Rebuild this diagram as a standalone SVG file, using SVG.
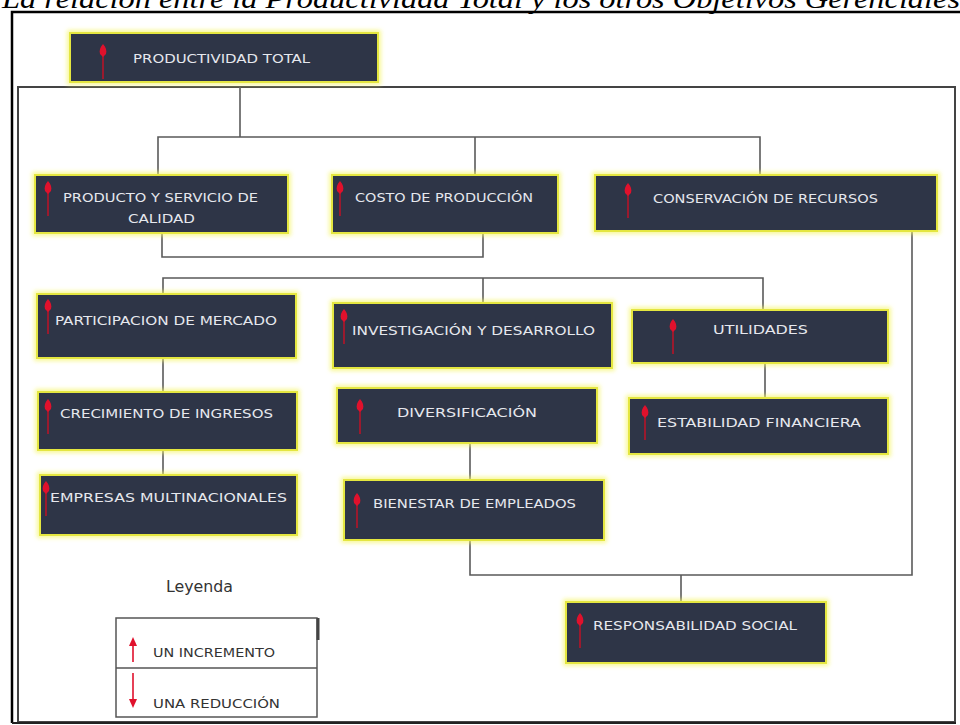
<svg xmlns="http://www.w3.org/2000/svg" xmlns:xlink="http://www.w3.org/1999/xlink" width="960" height="725" viewBox="0 0 960 725">
<style>
.box{fill:#2d3447;stroke:#e4e640;stroke-width:2;filter:url(#glow)}
.lbl{font-family:"DejaVu Sans Condensed","Liberation Sans Narrow",sans-serif;font-size:13px;fill:#e6e8ee}
.con{fill:none;stroke:#5a5a5a;stroke-width:1.6}
.leg{font-family:"DejaVu Sans Condensed","Liberation Sans Narrow",sans-serif;fill:#333}
</style>
<defs>
<filter id="glow" x="-10%" y="-25%" width="120%" height="150%">
<feMorphology in="SourceAlpha" operator="dilate" radius="2" result="d"/>
<feGaussianBlur in="d" stdDeviation="2" result="b"/>
<feFlood flood-color="#f6f66a" flood-opacity="0.7"/>
<feComposite in2="b" operator="in" result="g"/>
<feMerge><feMergeNode in="g"/><feMergeNode in="SourceGraphic"/></feMerge>
</filter>
<g id="up">
<line x1="0" y1="4" x2="0" y2="34" stroke="#9a1a2e" stroke-width="2"/>
<path d="M0,-1 C3,2 4,6 3,9 L0,12 L-3,9 C-4,6 -3,2 0,-1 Z" fill="#e0112c"/>
</g>
</defs>
<rect width="960" height="725" fill="#ffffff"/>
<text x="2" y="8" font-family="'Liberation Serif',serif" font-style="italic" font-size="28" textLength="958" lengthAdjust="spacingAndGlyphs" fill="#000">La relación entre la Productividad Total y los otros Objetivos Gerenciales</text>
<path d="M12,723 V12 H960" fill="none" stroke="#000" stroke-width="2.5"/>
<rect x="18" y="87" width="937" height="635" fill="none" stroke="#444" stroke-width="2"/>
<line x1="12" y1="723" x2="956" y2="723" stroke="#222" stroke-width="2"/>
<g id="connectors">
<path class="con" d="M240,87 V137"/>
<path class="con" d="M158,175 V137 H760 V175"/>
<path class="con" d="M475,137 V175"/>
<path class="con" d="M162,233 V257 H483 V233"/>
<path class="con" d="M163,295 V278 H763 V310"/>
<path class="con" d="M483,278 V303"/>
<path class="con" d="M163,358 V392"/>
<path class="con" d="M163,450 V475"/>
<path class="con" d="M765,363 V398"/>
<path class="con" d="M470,443 V480"/>
<path class="con" d="M470,540 V575 H912 V231"/>
<path class="con" d="M681,575 V602"/>
</g>
<g id="n-productividad"><rect class="box" x="70" y="33" width="308" height="49"/><use xlink:href="#up" x="103" y="45"/><text class="lbl" x="133" y="63" textLength="177" lengthAdjust="spacingAndGlyphs">PRODUCTIVIDAD TOTAL</text></g>
<g id="n-calidad"><rect class="box" x="35" y="175" width="253" height="58"/><use xlink:href="#up" x="48" y="182"/><text class="lbl" x="63" y="202" textLength="195" lengthAdjust="spacingAndGlyphs">PRODUCTO Y SERVICIO DE</text><text class="lbl" x="128" y="223" textLength="67" lengthAdjust="spacingAndGlyphs">CALIDAD</text></g>
<g id="n-costo"><rect class="box" x="332" y="175" width="226" height="58"/><use xlink:href="#up" x="340" y="182"/><text class="lbl" x="355" y="202" textLength="178" lengthAdjust="spacingAndGlyphs">COSTO DE PRODUCCIÓN</text></g>
<g id="n-conservacion"><rect class="box" x="595" y="175" width="342" height="56"/><use xlink:href="#up" x="628" y="184"/><text class="lbl" x="653" y="203" textLength="225" lengthAdjust="spacingAndGlyphs">CONSERVACIÓN DE RECURSOS</text></g>
<g id="n-participacion"><rect class="box" x="37" y="294" width="259" height="64"/><use xlink:href="#up" x="48" y="300"/><text class="lbl" x="55" y="325" textLength="222" lengthAdjust="spacingAndGlyphs">PARTICIPACION DE MERCADO</text></g>
<g id="n-crecimiento"><rect class="box" x="38" y="392" width="259" height="58"/><use xlink:href="#up" x="48" y="400"/><text class="lbl" x="60" y="418" textLength="213" lengthAdjust="spacingAndGlyphs">CRECIMIENTO DE INGRESOS</text></g>
<g id="n-empresas"><rect class="box" x="40" y="475" width="257" height="60"/><use xlink:href="#up" x="46" y="482"/><text class="lbl" x="50" y="502" textLength="237" lengthAdjust="spacingAndGlyphs">EMPRESAS MULTINACIONALES</text></g>
<g id="n-investigacion"><rect class="box" x="333" y="303" width="279" height="65"/><use xlink:href="#up" x="344" y="310"/><text class="lbl" x="352" y="335" textLength="243" lengthAdjust="spacingAndGlyphs">INVESTIGACIÓN Y DESARROLLO</text></g>
<g id="n-diversificacion"><rect class="box" x="337" y="388" width="260" height="55"/><use xlink:href="#up" x="360" y="400"/><text class="lbl" x="397" y="417" textLength="140" lengthAdjust="spacingAndGlyphs">DIVERSIFICACIÓN</text></g>
<g id="n-bienestar"><rect class="box" x="344" y="480" width="260" height="60"/><use xlink:href="#up" x="357" y="494"/><text class="lbl" x="373" y="508" textLength="203" lengthAdjust="spacingAndGlyphs">BIENESTAR DE EMPLEADOS</text></g>
<g id="n-utilidades"><rect class="box" x="632" y="310" width="256" height="53"/><use xlink:href="#up" x="673" y="320"/><text class="lbl" x="713" y="334" textLength="95" lengthAdjust="spacingAndGlyphs">UTILIDADES</text></g>
<g id="n-estabilidad"><rect class="box" x="629" y="398" width="259" height="56"/><use xlink:href="#up" x="645" y="406"/><text class="lbl" x="657" y="427" textLength="204" lengthAdjust="spacingAndGlyphs">ESTABILIDAD FINANCIERA</text></g>
<g id="n-responsabilidad"><rect class="box" x="566" y="602" width="260" height="61"/><use xlink:href="#up" x="580" y="614"/><text class="lbl" x="593" y="630" textLength="204" lengthAdjust="spacingAndGlyphs">RESPONSABILIDAD SOCIAL</text></g>
<g id="legend">
<text class="leg" x="166" y="592" font-size="15" textLength="67" lengthAdjust="spacingAndGlyphs">Leyenda</text>
<rect x="116" y="618" width="201" height="99" fill="#fff" stroke="#555" stroke-width="1.5"/>
<line x1="116" y1="668" x2="317" y2="668" stroke="#555" stroke-width="1.5"/>
<line x1="318" y1="618" x2="318" y2="640" stroke="#444" stroke-width="3"/>
<line x1="133" y1="644" x2="133" y2="662" stroke="#e0112c" stroke-width="1.6"/>
<path d="M133,637 L137,646 L129,646 Z" fill="#e0112c"/>
<line x1="133" y1="673" x2="133" y2="700" stroke="#e0112c" stroke-width="1.6"/>
<path d="M133,708 L137,699 L129,699 Z" fill="#e0112c"/>
<text class="leg" x="153" y="657" font-size="12" textLength="122" lengthAdjust="spacingAndGlyphs">UN INCREMENTO</text>
<text class="leg" x="153" y="708" font-size="12" textLength="127" lengthAdjust="spacingAndGlyphs">UNA REDUCCIÓN</text>
</g>
</svg>
